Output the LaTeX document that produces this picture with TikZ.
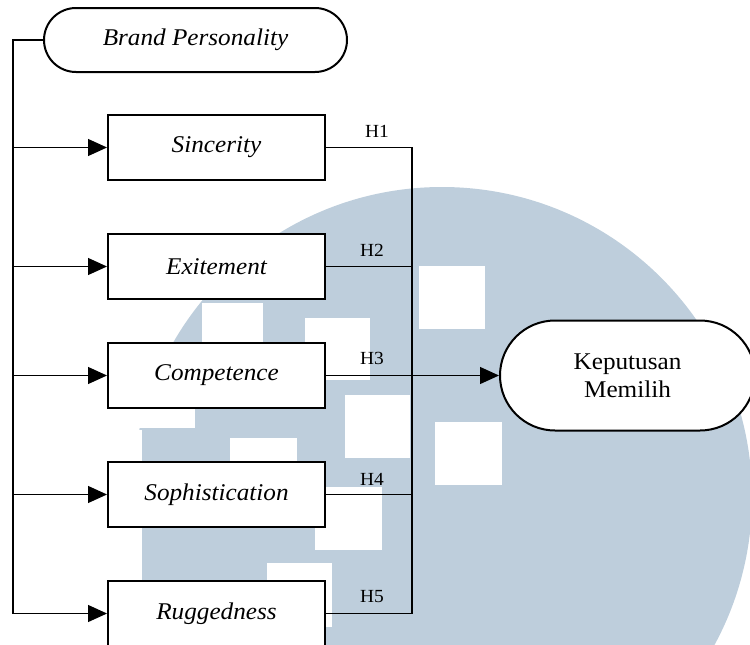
\documentclass[tikz,border=0pt]{standalone}
\usepackage{fontspec}
\setmainfont{Liberation Serif}[FakeStretch=1.05]
\usetikzlibrary{arrows.meta,shapes.misc}
\definecolor{wm}{RGB}{190,206,220}
\begin{document}
\begin{tikzpicture}[x=1pt,y=-1pt,
  box/.style={draw,line width=2pt,fill=white,minimum width=217pt,minimum height=65pt,inner sep=0pt,font=\fontsize{24}{26}\selectfont\itshape},
  pill/.style={rounded rectangle,draw,line width=2pt,fill=white,inner sep=0pt},
  conn/.style={line width=1.2pt},
  arr/.style={conn,-{Triangle[length=19pt,width=17pt]}},
  hlab/.style={font=\fontsize{18.5}{20}\selectfont,inner sep=0pt}]
\path[use as bounding box] (0,0) rectangle (750,645);
\clip (0,0) rectangle (750,645);
% watermark
\fill[wm] (442,497) circle[radius=310];
\fill[white] (0,430) rectangle (142,645);
\fill[wm] (142,430) rectangle (250,645);
\fill[white] (419,266) rectangle (485,329);
\fill[white] (305,318) rectangle (370,380);
\fill[white] (202,303) rectangle (263,365);
\fill[white] (345,395) rectangle (410,458);
\fill[white] (435,422) rectangle (502,485);
\fill[white] (230,438) rectangle (297,500);
\fill[white] (315,487) rectangle (382,550);
\fill[white] (267,563) rectangle (332,627);
\fill[white] (130,365) rectangle (195,428);
% nodes
\node[pill,minimum width=303pt,minimum height=64pt,font=\fontsize{24}{26}\selectfont\itshape] (bp) at (195.5,40) {Brand Personality};
\node[box] (s1) at (216.5,147.5) {Sincerity};
\node[box] (s2) at (216.5,266.5) {Exitement};
\node[box] (s3) at (216.5,375.5) {Competence};
\node[box] (s4) at (216.5,494.5) {Sophistication};
\node[box] (s5) at (216.5,613.5) {Ruggedness};
\node[pill,minimum width=255pt,minimum height=110pt,align=center,font=\fontsize{24}{28}\selectfont] (km) at (627.5,375.5) {Keputusan\\Memilih};
% left bus
\coordinate (lt) at (13,40);
\coordinate (lb) at (13,613.5);
\draw[conn] (bp.west) -- (lt) -- (lb);
\foreach \s in {s1,s2,s3,s4,s5}{\draw[arr] (lt |- \s.west) -- (\s.west);}
% right bus
\coordinate (rt) at (412,147.5);
\coordinate (rb) at (412,613.5);
\draw[conn] (s1.east) -- (rt) -- (rb) -- (s5.east);
\draw[conn] (s2.east) -- (rt |- s2.east);
\draw[conn] (s4.east) -- (rt |- s4.east);
\draw[arr] (s3.east) -- (km.west);
% labels
\node[hlab] (h1) at (377,131) {H1};
\node[hlab] (h2) at (372,250) {H2};
\node[hlab] (h3) at (372,358) {H3};
\node[hlab] (h4) at (372,479) {H4};
\node[hlab] (h5) at (372,597) {H5};
\end{tikzpicture}
\end{document}
